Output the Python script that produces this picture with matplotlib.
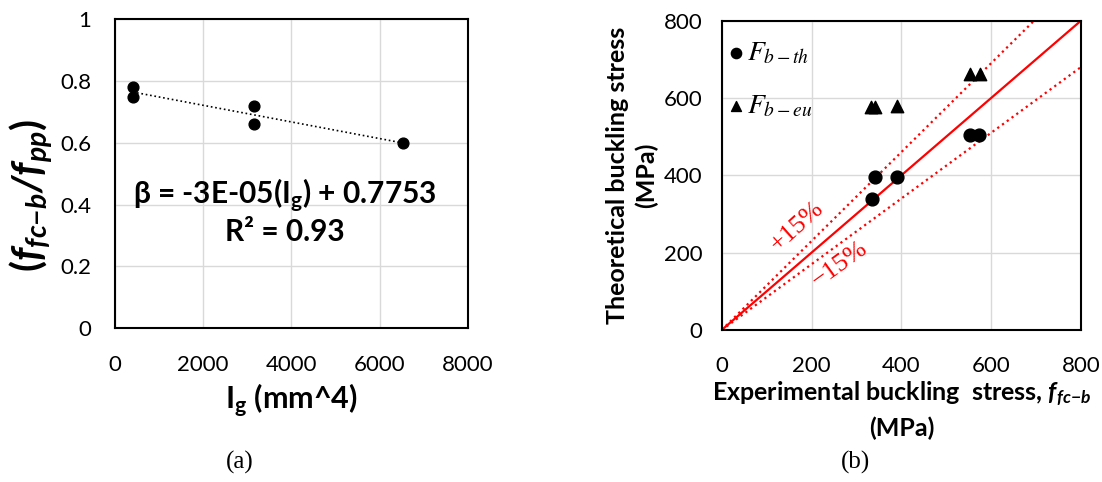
import numpy as np
import matplotlib
matplotlib.use('Agg')
import matplotlib.pyplot as plt

# (a) normalised buckling stress vs gross moment of inertia
ig = [400, 400, 3150, 3150, 6540]
beta = [0.78, 0.75, 0.72, 0.66, 0.60]

# (b) experimental vs theoretical buckling stress (MPa)
exp_th = [335, 341, 390, 553, 574]
f_th = [340, 395, 395, 505, 505]
exp_eu = [333, 342, 390, 553, 575]
f_eu = [578, 578, 580, 662, 662]

plt.rcParams['font.family'] = ['Lato', 'DejaVu Sans']
plt.rcParams['mathtext.fontset'] = 'custom'
plt.rcParams['mathtext.rm'] = 'Lato:bold'
plt.rcParams['mathtext.bf'] = 'Lato:bold'
plt.rcParams['mathtext.it'] = 'Lato:bold:italic'
plt.rcParams['mathtext.bfit'] = 'Lato:bold:italic'

fig = plt.figure(figsize=(11.02, 4.82), dpi=100)
ax1 = fig.add_axes([0.1044, 0.319, 0.320, 0.641])
ax2 = fig.add_axes([0.6549, 0.3154, 0.326, 0.6417])


def style(ax, xpad, ypad):
    ax.grid(True, color='#d9d9d9', lw=1)
    ax.set_axisbelow(True)
    for s in ax.spines.values():
        s.set_linewidth(1.5)
        s.set_color('black')
    ax.tick_params(length=0, labelsize=16)
    ax.tick_params(axis='x', pad=xpad)
    ax.tick_params(axis='y', pad=ypad)


# ---- (a)
style(ax1, 19, 17)
ax1.set_xlim(0, 8000)
ax1.set_ylim(0, 1)
ax1.set_xticks([0, 2000, 4000, 6000, 8000])
ax1.set_yticks([0, 0.2, 0.4, 0.6, 0.8, 1])
ax1.set_yticklabels(['0', '0.2', '0.4', '0.6', '0.8', '1'])
ax1.scatter(ig, beta, s=60, color='black', zorder=3)
coef = np.polyfit(ig, beta, 1)
xs = np.array([min(ig), max(ig)])
ax1.plot(xs, np.polyval(coef, xs), color='black', ls=':', lw=1.2, zorder=2)
ax1.text(3850, 0.43, 'β = -3E-05(I$_{\\mathrm{g}}$) + 0.7753', fontsize=21.5,
         fontweight='bold', ha='center', va='center')
ax1.text(3850, 0.31, 'R² = 0.93', fontsize=21.5, fontweight='bold',
         ha='center', va='center')
ax1.set_xlabel('I$_{\\mathrm{g}}$ (mm^4)', fontsize=22, fontweight='bold',
               labelpad=5)
ax1.set_ylabel(r'$\mathbf{(}\mathbfit{f_{fc{-}b}/f_{pp}}\mathbf{)}$',
               fontsize=29)
ax1.yaxis.set_label_coords(-0.17, 0.43)

# ---- (b)
style(ax2, 19, 14)
ax2.set_xlim(0, 800)
ax2.set_ylim(0, 800)
ax2.set_xticks(range(0, 801, 200))
ax2.set_yticks(range(0, 801, 200))
line = np.array([0, 800])
ax2.plot(line, line, color='red', lw=1.6, zorder=2)
ax2.plot(line, 1.15 * line, color='red', lw=1.6, ls=':', zorder=2)
ax2.plot(line, 0.85 * line, color='red', lw=1.6, ls=':', zorder=2)
ax2.scatter(exp_th, f_th, s=85, marker='o', color='black', zorder=3,
            label=r'$F_{b-th}$')
ax2.scatter(exp_eu, f_eu, s=80, marker='^', color='black', zorder=3,
            label=r'$F_{b-eu}$')
leg = ax2.legend(loc='upper left', bbox_to_anchor=(-0.015, 0.975),
                 frameon=False, fontsize=20, handletextpad=0.1,
                 labelspacing=0.95, borderaxespad=0.0, handlelength=0.6,
                 markerscale=0.8)
for t in leg.get_texts():
    t.set_math_fontfamily('stix')
ax2.text(167, 267, '+15%', color='red', fontsize=19, rotation=42,
         ha='center', va='center', family='Liberation Serif')
ax2.text(262, 168, '−15%', color='red', fontsize=19, rotation=36,
         ha='center', va='center', family='Liberation Serif')
ax2.set_xlabel('Experimental buckling  stress, $\\mathbfit{f_{fc{-}b}}$\n(MPa)',
               fontsize=18, fontweight='bold', labelpad=2, linespacing=1.45)
ax2.set_ylabel('Theoretical buckling stress\n(MPa)', fontsize=18,
               fontweight='bold', labelpad=4, linespacing=1.3)

fig.text(0.218, 0.04, '(a)', fontsize=18, family='Liberation Serif',
         ha='center', va='center')
fig.text(0.776, 0.04, '(b)', fontsize=18, family='Liberation Serif',
         ha='center', va='center')

fig.savefig('out.png', dpi=100)
